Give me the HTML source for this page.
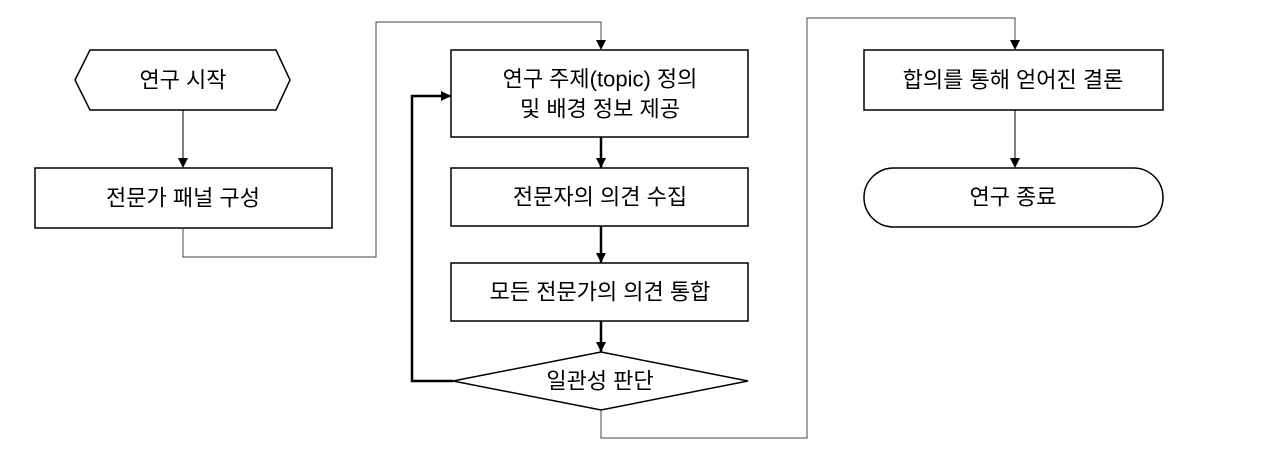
<!DOCTYPE html>
<html><head><meta charset="utf-8"><style>
html,body{margin:0;padding:0;background:#fff;}
svg text{font-family:"Liberation Sans","Noto Sans CJK KR",sans-serif;font-size:22px;fill:#000;text-anchor:middle;dominant-baseline:central;}
</style></head><body>
<svg width="1280" height="464" viewBox="0 0 1280 464" xmlns="http://www.w3.org/2000/svg">
<defs>
<marker id="a" viewBox="0 0 10 10" refX="10" refY="5" markerWidth="10" markerHeight="10" markerUnits="userSpaceOnUse" orient="auto"><path d="M0,0L10,5L0,10z" fill="#000"/></marker>
</defs>
<g fill="none" stroke="#000" stroke-width="1.5">
<polygon points="75,80 90,50 276,50 290,80 276,110 90,110" fill="#fff"/>
<rect x="35" y="168" width="297" height="60"/>
<rect x="451" y="50" width="297" height="87"/>
<rect x="451" y="168" width="297" height="58"/>
<rect x="451" y="263" width="297" height="58"/>
<polygon points="453,381 601,352 748,381 601,410"/>
<rect x="864" y="50" width="299" height="60"/>
<rect x="864" y="168" width="299" height="59" rx="29.5"/>
</g>
<g fill="none" stroke="#444" stroke-width="1">
<path d="M183,110V168" stroke="#000" marker-end="url(#a)"/>
<path d="M183,228V257H376V22H601V50" marker-end="url(#a)"/>
<path d="M601,410V438H807V18H1015V50" marker-end="url(#a)"/>
<path d="M1015,110V168" stroke="#000" marker-end="url(#a)"/>
</g>
<g fill="none" stroke="#000" stroke-width="2.5">
<path d="M601,137V168" marker-end="url(#a)"/>
<path d="M601,226V263" marker-end="url(#a)"/>
<path d="M601,321V352" marker-end="url(#a)"/>
<path d="M453,381H412V96H451" marker-end="url(#a)"/>
</g>
<text x="183" y="80">연구 시작</text>
<text x="183" y="198">전문가 패널 구성</text>
<text x="600" y="79">연구 주제(topic) 정의</text>
<text x="600" y="109">및 배경 정보 제공</text>
<text x="600" y="197">전문자의 의견 수집</text>
<text x="600" y="292">모든 전문가의 의견 통합</text>
<text x="600" y="381">일관성 판단</text>
<text x="1013" y="80">합의를 통해 얻어진 결론</text>
<text x="1013" y="197">연구 종료</text>
</svg>
</body></html>
